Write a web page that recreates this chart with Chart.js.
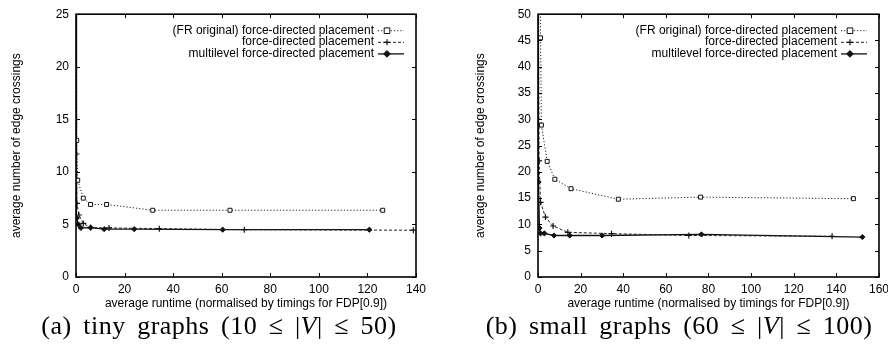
<!DOCTYPE html>
<html><head><meta charset="utf-8">
<script src="https://cdn.jsdelivr.net/npm/chart.js@4.4.0/dist/chart.umd.min.js"></script>
<style>
html,body{margin:0;padding:0;background:#fff;overflow:hidden;width:888px;height:349px;}
#cA{position:absolute;left:0;top:0;}
#cB{position:absolute;left:444px;top:0;}
.cap{position:absolute;top:311px;font-family:"Liberation Serif","Times New Roman",serif;font-size:26px;white-space:nowrap;color:#000;transform:translateX(-50%);letter-spacing:0.5px;word-spacing:4.5px;}
</style></head><body>
<canvas id="cA" width="444" height="312" style="width:444px;height:312px"></canvas>
<canvas id="cB" width="450" height="312" style="width:450px;height:312px"></canvas>
<div class="cap" style="left:219px">(a) tiny graphs (10 ≤ |<i>V</i>| ≤ 50)</div>
<div class="cap" style="left:679px">(b) small graphs (60 ≤ |<i>V</i>| ≤ 100)</div>
<script>
const seriesLabels = ['(FR original) force-directed placement', 'force-directed placement', 'multilevel force-directed placement'];
const xTitle = 'average runtime (normalised by timings for FDP[0.9])';
const yTitle = 'average number of edge crossings';

// (a) tiny graphs
const tinyFRx = [0.1, 0.3, 0.7, 3.0, 6.0, 12.6, 31.6, 63.4, 126.3];
const tinyFRy = [60, 13.0, 9.2, 7.5, 6.9, 6.9, 6.35, 6.35, 6.35];
const tinyFDx = [0.05, 0.2, 0.4, 1.2, 3.0, 6.0, 13.6, 34.3, 69.3, 138.9];
const tinyFDy = [40, 11.7, 7.0, 5.9, 5.1, 4.7, 4.67, 4.6, 4.5, 4.45];
const tinyMLx = [0.02, 0.1, 0.3, 1.0, 2.0, 6.0, 11.6, 24.0, 60.4, 120.8];
const tinyMLy = [30, 9.2, 5.6, 5.0, 4.67, 4.7, 4.55, 4.55, 4.5, 4.5];

// (b) small graphs
const smallFRx = [0.3, 1.2, 1.6, 4.3, 7.9, 15.5, 37.7, 76.3, 148.0];
const smallFRy = [80, 45.5, 28.9, 22.0, 18.6, 16.8, 14.8, 15.2, 14.9];
const smallFDx = [0.1, 0.5, 1.2, 3.5, 7.1, 14.0, 34.5, 70.8, 138.0];
const smallFDy = [60, 22.1, 14.2, 11.4, 9.7, 8.5, 8.25, 7.9, 7.75];
const smallMLx = [0.05, 0.2, 0.7, 1.2, 3.0, 7.5, 14.9, 30.1, 76.7, 152.2];
const smallMLy = [70, 18.1, 9.3, 8.3, 8.3, 7.9, 7.9, 7.9, 8.1, 7.6];

const tinyXTicks = [0, 20, 40, 60, 80, 100, 120, 140];
const tinyYTicks = [0, 5, 10, 15, 20, 25];
const smallXTicks = [0, 20, 40, 60, 80, 100, 120, 140, 160];
const smallYTicks = [0, 5, 10, 15, 20, 25, 30, 35, 40, 45, 50];

Chart.defaults.font.family = '"Liberation Sans", Arial, sans-serif';
Chart.defaults.font.size = 12;
Chart.defaults.color = '#000';

function pts(xs, ys) { return xs.map((x, i) => ({x: x, y: ys[i]})); }

const styles = [
  {borderColor: '#222', borderWidth: 1, borderDash: [1.2, 2], pointStyle: 'rect', pointRadius: 2.8, pointBackgroundColor: '#fff', pointBorderColor: '#111', pointBorderWidth: 1},
  {borderColor: '#222', borderWidth: 1, borderDash: [3, 2], pointStyle: 'cross', pointRadius: 3, pointBackgroundColor: '#111', pointBorderColor: '#111', pointBorderWidth: 1.2},
  {borderColor: '#111', borderWidth: 1.3, borderDash: [], pointStyle: 'rectRot', pointRadius: 2.6, pointBackgroundColor: '#111', pointBorderColor: '#111', pointBorderWidth: 1}
];

function drawMarker(ctx, st, x, y) {
  const r = st.pointRadius;
  ctx.save();
  ctx.setLineDash([]);
  ctx.lineWidth = st.pointBorderWidth;
  ctx.strokeStyle = st.pointBorderColor;
  ctx.fillStyle = st.pointBackgroundColor;
  ctx.beginPath();
  if (st.pointStyle === 'rect') {
    ctx.rect(x - r, y - r, 2 * r, 2 * r); ctx.fill(); ctx.stroke();
  } else if (st.pointStyle === 'cross') {
    ctx.moveTo(x - r, y); ctx.lineTo(x + r, y); ctx.moveTo(x, y - r); ctx.lineTo(x, y + r); ctx.stroke();
  } else {
    ctx.moveTo(x, y - r * 1.3); ctx.lineTo(x + r * 1.3, y); ctx.lineTo(x, y + r * 1.3); ctx.lineTo(x - r * 1.3, y); ctx.closePath(); ctx.fill(); ctx.stroke();
  }
  ctx.restore();
}

const framePlugin = {
  id: 'frame',
  afterDraw(chart) {
    const ctx = chart.ctx, a = chart.chartArea;
    const xs = chart.scales.x, ys = chart.scales.y;
    ctx.save();
    ctx.strokeStyle = '#000';
    ctx.lineWidth = 1;
    const tl = 4;
    ctx.beginPath();
    xs.ticks.forEach(t => {
      const px = Math.round(xs.getPixelForValue(t.value)) + 0.5;
      ctx.moveTo(px, a.bottom); ctx.lineTo(px, a.bottom - tl);
      ctx.moveTo(px, a.top); ctx.lineTo(px, a.top + tl);
    });
    ys.ticks.forEach(t => {
      const py = Math.round(ys.getPixelForValue(t.value)) + 0.5;
      ctx.moveTo(a.left, py); ctx.lineTo(a.left + tl, py);
      ctx.moveTo(a.right, py); ctx.lineTo(a.right - tl, py);
    });
    ctx.stroke();
    ctx.lineWidth = 1.6;
    ctx.strokeRect(a.left, a.top, a.right - a.left, a.bottom - a.top);
    // legend
    ctx.font = '12px "Liberation Sans", Arial, sans-serif';
    ctx.fillStyle = '#000';
    ctx.textAlign = 'right';
    ctx.textBaseline = 'middle';
    const textRight = a.right - 42;
    chart.data.datasets.forEach((ds, i) => {
      const y = a.top + 16 + i * 11.6;
      ctx.fillText(ds.label, textRight, y);
      const st = styles[i];
      ctx.save();
      ctx.strokeStyle = st.borderColor;
      ctx.lineWidth = st.borderWidth;
      ctx.setLineDash(st.borderDash);
      ctx.beginPath();
      ctx.moveTo(textRight + 4, y + 0.5);
      ctx.lineTo(a.right - 12, y + 0.5);
      ctx.stroke();
      ctx.restore();
      drawMarker(ctx, st, textRight + 13, y + 0.5);
    });
    ctx.restore();
  }
};

function makeChart(id, series, xMax, yMax, xTicks, yTicks, yAxisWidth, yTitlePad, padRight) {
  const datasets = series.map((s, i) => Object.assign({
    label: seriesLabels[i],
    data: pts(s[0], s[1]),
    fill: false,
    tension: 0,
    pointHoverRadius: 3
  }, styles[i]));
  return new Chart(document.getElementById(id), {
    type: 'line',
    data: {datasets: datasets},
    plugins: [framePlugin],
    options: {
      responsive: false,
      animation: false,
      events: [],
      layout: {padding: {top: 13, right: padRight, left: 0, bottom: 0}},
      plugins: {legend: {display: false}, tooltip: {enabled: false}},
      scales: {
        x: {
          type: 'linear', min: 0, max: xMax,
          afterBuildTicks: (s) => { s.ticks = xTicks.map(v => ({value: v})); },
          ticks: {padding: 5, maxRotation: 0, autoSkip: false, color: '#000'},
          grid: {display: false, drawTicks: false},
          border: {display: false},
          title: {display: true, text: xTitle, color: '#000', font: {size: 12}, padding: {top: 0, bottom: 1}},
          afterFit: (s) => { s.height = 35; }
        },
        y: {
          type: 'linear', min: 0, max: yMax,
          afterBuildTicks: (s) => { s.ticks = yTicks.map(v => ({value: v})); },
          ticks: {padding: 7, autoSkip: false, color: '#000'},
          grid: {display: false, drawTicks: false},
          border: {display: false},
          title: {display: true, text: yTitle, color: '#000', font: {size: 12}, padding: {top: yTitlePad, bottom: 0}},
          afterFit: (s) => { s.width = yAxisWidth; }
        }
      }
    }
  });
}

makeChart('cA', [[tinyFRx, tinyFRy], [tinyFDx, tinyFDy], [tinyMLx, tinyMLy]], 140, 25, tinyXTicks, tinyYTicks, 76, 9.5, 28);
makeChart('cB', [[smallFRx, smallFRy], [smallFDx, smallFDy], [smallMLx, smallMLy]], 160, 50, smallXTicks, smallYTicks, 94, 29.5, 15);
</script>
</body></html>
